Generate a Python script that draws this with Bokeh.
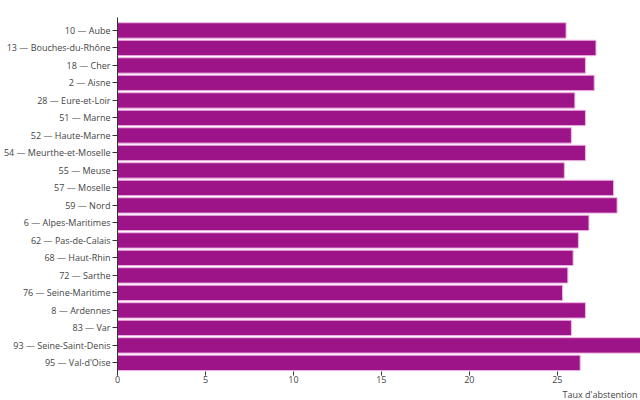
from bokeh.plotting import figure
from bokeh.models import Range1d, FixedTicker, Title, ColumnDataSource
from bokeh.embed import file_html
from bokeh.resources import INLINE

departements = [
    "10 — Aube", "13 — Bouches-du-Rhône", "18 — Cher", "2 — Aisne",
    "28 — Eure-et-Loir", "51 — Marne", "52 — Haute-Marne",
    "54 — Meurthe-et-Moselle", "55 — Meuse", "57 — Moselle", "59 — Nord",
    "6 — Alpes-Maritimes", "62 — Pas-de-Calais", "68 — Haut-Rhin",
    "72 — Sarthe", "76 — Seine-Maritime", "8 — Ardennes", "83 — Var",
    "93 — Seine-Saint-Denis", "95 — Val-d'Oise",
]
abstention = [
    25.5, 27.2, 26.6, 27.1, 26.0, 26.6, 25.8, 26.6, 25.4, 28.2,
    28.4, 26.8, 26.2, 25.9, 25.6, 25.3, 26.6, 25.8, 29.9, 26.3,
]
x_ticks = [0, 5, 10, 15, 20, 25]
x_title = "Taux d'abstention"

pos = list(range(len(departements)))
src = ColumnDataSource(dict(y=pos, right=abstention, name=departements))

FONT = "Open Sans"
TXT = "#444444"
X_END = 29.73
Y_START, Y_END = 19.72, -0.74

p = figure(
    width=640, height=400,
    x_range=Range1d(0, X_END), y_range=Range1d(Y_START, Y_END),
    output_backend="svg", toolbar_location=None, tools="",
    min_border_left=0, min_border_right=0, min_border_top=17, min_border_bottom=0,
)
p.outline_line_color = None
p.xgrid.visible = False
p.ygrid.visible = False

p.hbar(y="y", right="right", left=0, height=0.88, source=src,
       fill_color="#9c1487", line_color="#eeb4e4", line_width=1)

# y axis
ya = p.yaxis[0]
ya.ticker = FixedTicker(ticks=pos)
ya.major_label_overrides = {i: n for i, n in enumerate(departements)}
ya.major_label_text_font = FONT
ya.major_label_text_font_size = "9px"
ya.major_label_text_color = TXT
ya.major_tick_out = 5
ya.major_tick_in = 0
ya.minor_tick_out = 0
ya.minor_tick_in = 0
ya.major_label_standoff = 2
ya.axis_line_color = "#333333"
ya.major_tick_line_color = "#333333"

# x axis
xa = p.xaxis[0]
xa.ticker = FixedTicker(ticks=x_ticks)
xa.major_label_text_font = FONT
xa.major_label_text_font_size = "9px"
xa.major_label_text_color = TXT
xa.axis_line_color = None
xa.major_tick_in = 4
xa.major_tick_out = 0
xa.minor_tick_in = 0
xa.minor_tick_out = 0
xa.major_label_standoff = 0
xa.major_tick_line_color = "#333333"

p.add_layout(Title(text=x_title, align="right", text_font=FONT,
                   text_font_size="9px", text_font_style="normal",
                   text_color=TXT, standoff=0, offset=3), "below")

open("out.html", "w").write(file_html(p, INLINE))
